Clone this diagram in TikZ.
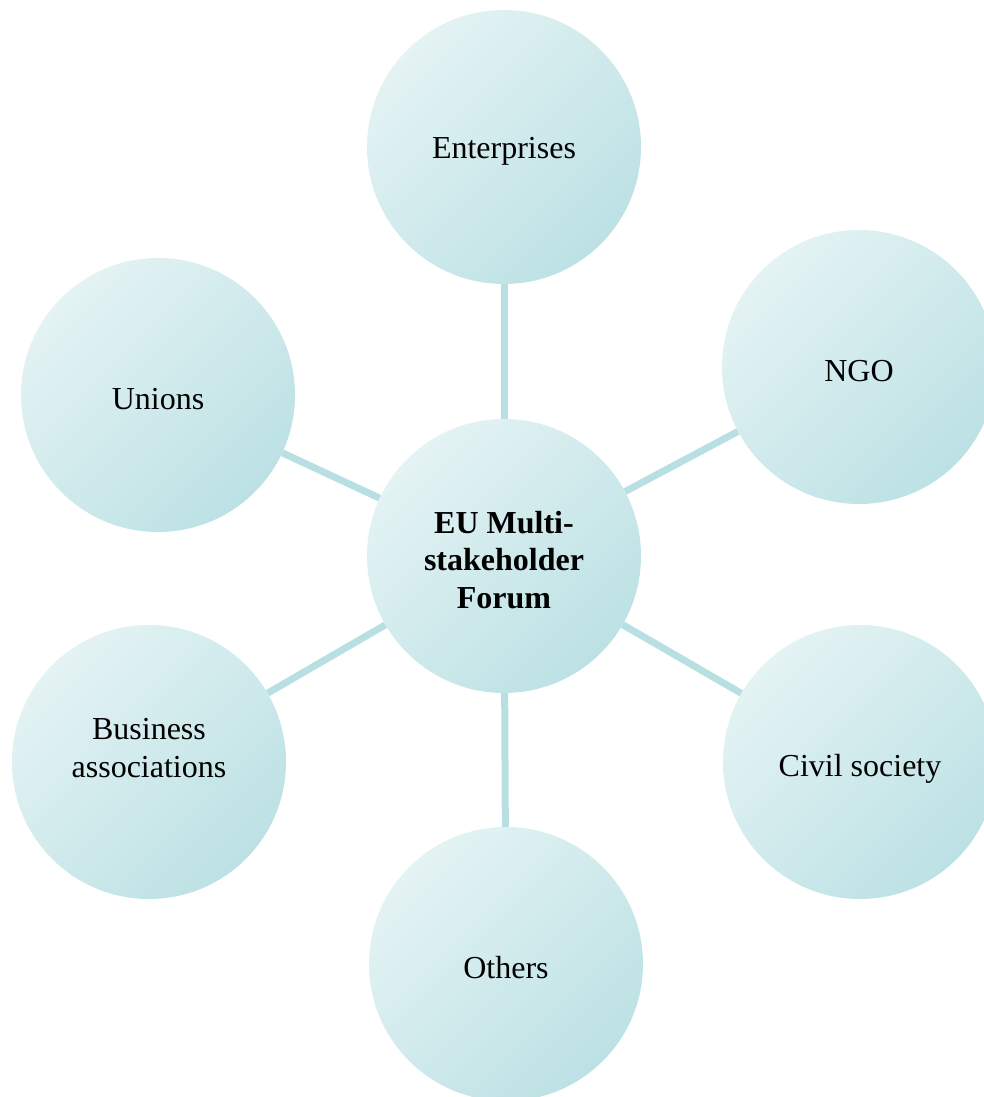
\documentclass[tikz,border=0pt]{standalone}
\usepackage{fontspec}
\setmainfont{Liberation Serif}
\definecolor{lite}{RGB}{228,243,244}
\definecolor{dark}{RGB}{188,225,228}
\definecolor{spoke}{RGB}{184,223,226}
\begin{document}
\begin{tikzpicture}[x=1pt,y=-1pt,
  bubble/.style={circle,minimum size=274pt,inner sep=0pt,
    top color=lite,bottom color=dark,shading angle=45,draw=none},
  txt/.style={align=center,font=\fontsize{32}{37.5}\selectfont,yshift=-4pt,inner sep=0pt},
  spokeline/.style={draw=spoke,line width=7pt}]
\useasboundingbox (0,0) rectangle (984,1097);
\node[bubble,label={[txt]center:\textbf{EU Multi-}\\\textbf{stakeholder}\\\textbf{Forum}}] (hub) at (504,556) {};
\node[bubble,label={[txt]center:Enterprises}] (ent) at (504,147) {};
\node[bubble,label={[txt]center:NGO}] (ngo) at (859,367) {};
\node[bubble,label={[txt,yshift=-3pt]center:Civil society}] (civ) at (860,762) {};
\node[bubble,label={[txt]center:Others}] (oth) at (506,964) {};
\node[bubble,label={[txt,yshift=18pt]center:Business\\associations}] (bus) at (149,762) {};
\node[bubble,label={[txt]center:Unions}] (uni) at (158,395) {};
\foreach \n in {ent,ngo,civ,oth,bus,uni}
  \draw[spokeline] (hub) -- (\n);
\end{tikzpicture}
\end{document}
